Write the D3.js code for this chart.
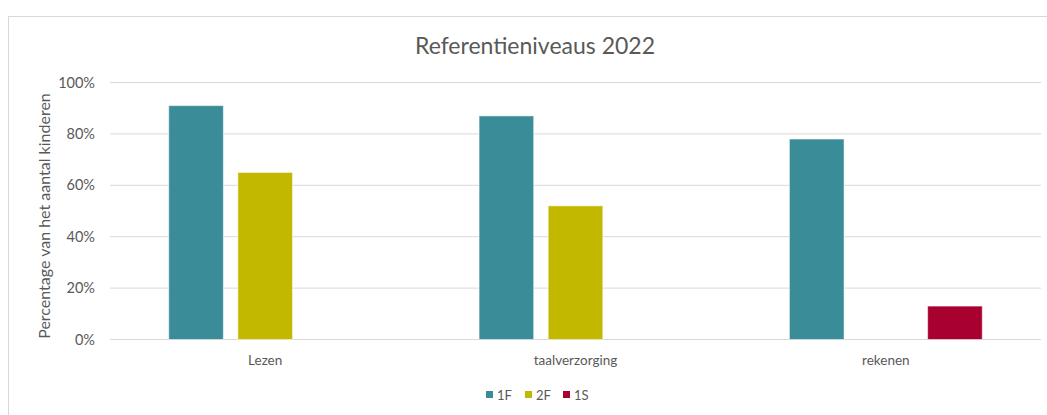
<!DOCTYPE html>
<html lang="nl">
<head>
    <meta charset="UTF-8">
    <title>Referentieniveaus 2022</title>
    <style>
        body {
            margin: 0;
            background: #fff;
            font-family: Lato, 'Open Sans', sans-serif;
        }
        text {
            fill: #595959;
        }
    </style>
</head>
<body>
    <div id="chart"></div>
    <script src="https://d3js.org/d3.v7.min.js"></script>
    <script>
        // data
        var categories = ["Lezen", "taalverzorging", "rekenen"];
        var seriesNames = ["1F", "2F", "1S"];
        var values1F = [0.91, 0.87, 0.78];
        var values2F = [0.65, 0.52, null];
        var values1S = [null, null, 0.13];
        var yTicks = [0, 0.2, 0.4, 0.6, 0.8, 1.0];
        var colors = ["#3b8c99", "#c3b800", "#a8002f"];

        var width = 1047, height = 415;
        var plot = {left: 110, right: 1041, top: 82.5, bottom: 339.5};

        var svg = d3.select("#chart")
            .append("svg")
            .attr("width", width)
            .attr("height", height);

        // chart frame
        svg.append("rect")
            .attr("x", 8.5)
            .attr("y", 16.5)
            .attr("width", 1100)
            .attr("height", 500)
            .attr("fill", "#fff")
            .attr("stroke", "#d9d9d9");

        var rows = categories.map(function(c, i) {
            return {cat: c, vals: [values1F[i], values2F[i], values1S[i]]};
        });

        var x0 = d3.scaleBand()
            .domain(categories)
            .range([plot.left, plot.right])
            .padding(0);

        var x1 = d3.scaleBand()
            .domain(seriesNames)
            .range([0, x0.bandwidth()])
            .paddingInner(0.21)
            .paddingOuter(0.85);

        var y = d3.scaleLinear()
            .domain([0, 1])
            .range([plot.bottom, plot.top]);

        // gridlines
        svg.append("g")
            .selectAll("line")
            .data(yTicks)
            .enter().append("line")
            .attr("x1", plot.left)
            .attr("x2", plot.right)
            .attr("y1", d => y(d))
            .attr("y2", d => y(d))
            .attr("stroke", "#d9d9d9")
            .attr("stroke-width", 1);

        // y axis labels
        var yAxis = d3.axisLeft(y)
            .tickValues(yTicks)
            .tickFormat(d3.format(".0%"))
            .tickSize(0)
            .tickPadding(0);

        var gy = svg.append("g")
            .attr("transform", "translate(95,0)")
            .call(yAxis);
        gy.select(".domain").remove();
        gy.selectAll("text")
            .style("font-family", "Lato, sans-serif")
            .style("font-size", "14.5px")
            .attr("fill", "#595959");

        // bars
        var groups = svg.selectAll(".group")
            .data(rows)
            .enter().append("g")
            .attr("class", "group")
            .attr("transform", d => "translate(" + x0(d.cat) + ",0)");

        groups.selectAll("rect")
            .data(d => d.vals.map((v, i) => ({name: seriesNames[i], v: v, i: i})).filter(e => e.v !== null))
            .enter().append("rect")
            .attr("x", d => x1(d.name))
            .attr("y", d => y(d.v))
            .attr("width", x1.bandwidth())
            .attr("height", d => y(0) - y(d.v))
            .attr("fill", d => colors[d.i])
            .attr("stroke", "#ffffff")
            .attr("stroke-opacity", 0.5)
            .attr("stroke-width", 1);

        // x axis labels
        var xAxis = d3.axisBottom(x0)
            .tickSize(0)
            .tickPadding(0);
        var gx = svg.append("g")
            .attr("transform", "translate(0,355)")
            .call(xAxis);
        gx.select(".domain").remove();
        gx.selectAll("text")
            .style("font-family", "Lato, sans-serif")
            .style("font-size", "13.5px")
            .attr("fill", "#595959");

        // title
        svg.append("text")
            .attr("x", 535)
            .attr("y", 54)
            .attr("text-anchor", "middle")
            .style("font-size", "23px")
            .text("Referentieniveaus 2022");

        // y axis title
        svg.append("text")
            .attr("transform", "translate(50,216) rotate(-90)")
            .attr("text-anchor", "middle")
            .style("font-size", "16px")
            .text("Percentage van het aantal kinderen");

        // legend
        var legendX = [486, 525, 563];
        var legend = svg.selectAll(".legend")
            .data(seriesNames)
            .enter().append("g")
            .attr("class", "legend")
            .attr("transform", (d, i) => "translate(" + legendX[i] + ",391)");

        legend.append("rect")
            .attr("width", 7)
            .attr("height", 7)
            .attr("fill", (d, i) => colors[i]);

        legend.append("text")
            .attr("x", 11)
            .attr("y", 8.5)
            .style("font-size", "13px")
            .text(d => d);
    </script>
</body>
</html>
